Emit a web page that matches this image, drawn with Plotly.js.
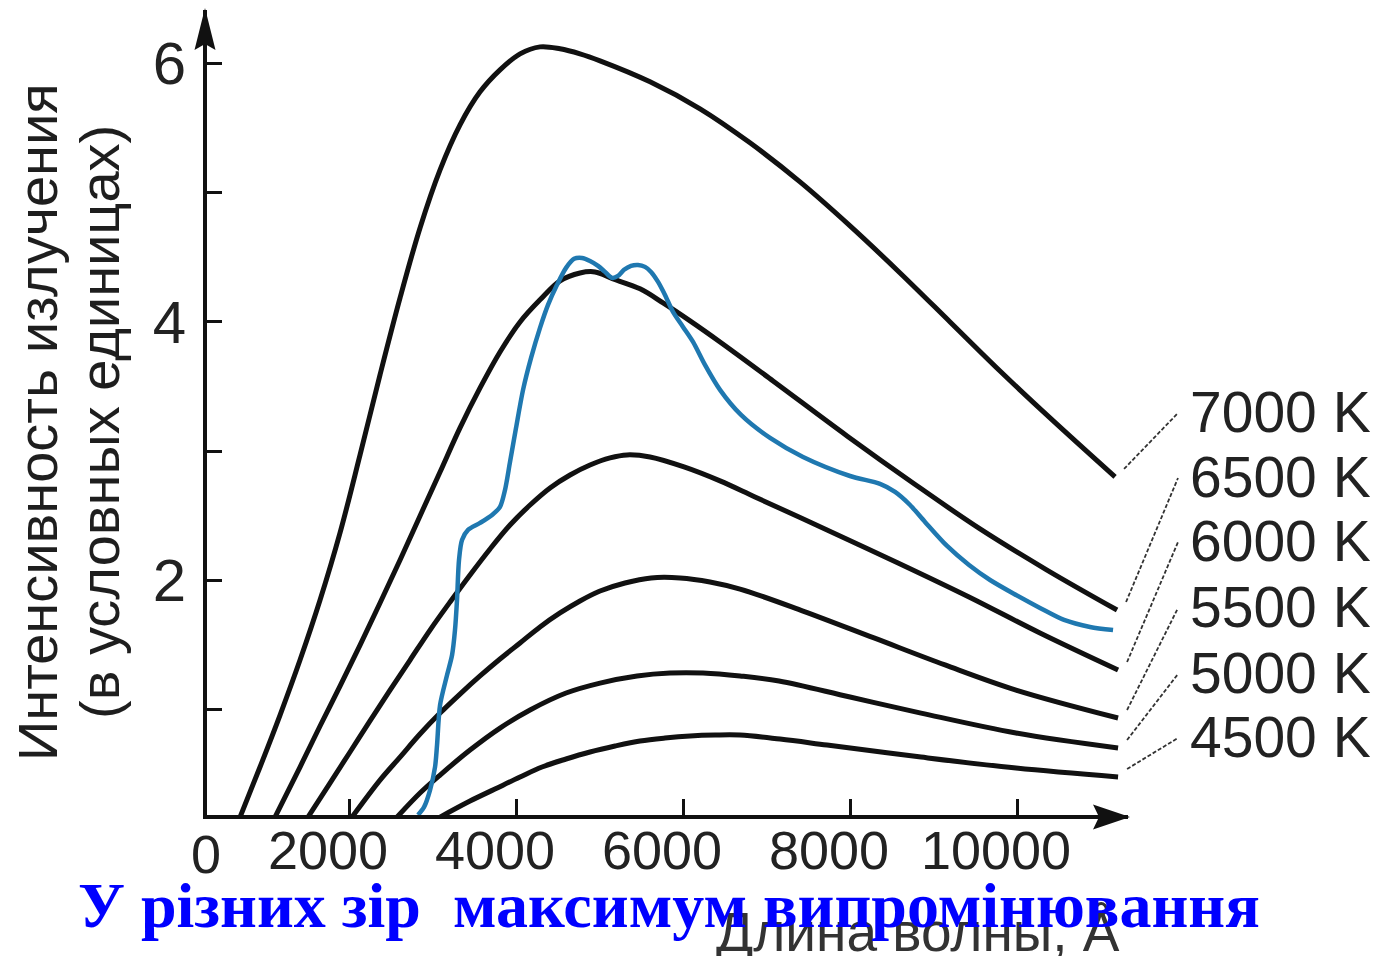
<!DOCTYPE html>
<html><head><meta charset="utf-8">
<script src="https://cdn.plot.ly/plotly-3.0.1.min.js"></script>
<style>html,body{margin:0;padding:0;background:#fff}#chart{width:1380px;height:956px}</style>
</head><body><div id="chart"></div>
<script>
// Wavelength (Å) and intensity (arbitrary units)
const wl7000 = [695, 934, 1174, 1413, 1653, 1892, 2132, 2371, 2611, 2850, 3090, 3329, 3569, 3808, 4048, 4287, 4527, 4766, 5006, 5605, 6204, 6802, 7401, 8000, 8599, 9198, 9796, 10395, 11174];
const in7000 = [0.17, 0.557, 0.959, 1.384, 1.848, 2.367, 2.970, 3.589, 4.184, 4.725, 5.174, 5.522, 5.777, 5.947, 6.071, 6.125, 6.110, 6.071, 6.017, 5.855, 5.646, 5.383, 5.081, 4.741, 4.377, 3.998, 3.619, 3.256, 2.800];

const wl6500 = [1114, 1413, 1653, 1892, 2132, 2371, 2611, 2850, 3090, 3329, 3569, 3808, 4048, 4287, 4527, 4766, 4946, 5162, 5485, 5761, 6084, 6443, 7078, 7964, 8754, 9557, 10359, 11198];
const in6500 = [0.17, 0.557, 0.874, 1.183, 1.500, 1.825, 2.158, 2.498, 2.838, 3.179, 3.488, 3.766, 3.998, 4.169, 4.316, 4.377, 4.385, 4.331, 4.254, 4.145, 4.006, 3.843, 3.542, 3.117, 2.753, 2.398, 2.080, 1.771];

const wl6000 = [1509, 1772, 2012, 2251, 2491, 2731, 2970, 3210, 3449, 3689, 3928, 4168, 4407, 4647, 4886, 5126, 5329, 5605, 6012, 6443, 6862, 7725, 8575, 9425, 10275, 11210];
const in6000 = [0.17, 0.433, 0.673, 0.913, 1.152, 1.384, 1.616, 1.833, 2.042, 2.243, 2.428, 2.583, 2.715, 2.815, 2.892, 2.947, 2.970, 2.954, 2.877, 2.769, 2.645, 2.390, 2.135, 1.872, 1.593, 1.307];

const wl5500 = [2036, 2371, 2611, 2850, 3090, 3329, 3569, 3808, 4048, 4287, 4527, 4766, 5006, 5305, 5617, 5964, 6323, 6683, 7437, 8287, 9138, 9988, 11210];
const in5500 = [0.17, 0.456, 0.634, 0.812, 0.974, 1.121, 1.261, 1.392, 1.516, 1.640, 1.748, 1.841, 1.918, 1.980, 2.019, 2.019, 1.988, 1.933, 1.763, 1.555, 1.346, 1.152, 0.936];

const wl5000 = [2575, 2850, 3090, 3449, 3808, 4168, 4599, 5006, 5449, 5844, 6240, 6683, 7150, 8000, 8850, 9988, 11210];
const in5000 = [0.17, 0.356, 0.495, 0.688, 0.858, 0.998, 1.129, 1.206, 1.261, 1.284, 1.284, 1.261, 1.222, 1.098, 0.974, 0.820, 0.704];

const wl4500 = [3090, 3449, 3748, 4048, 4311, 4599, 4886, 5186, 5485, 5784, 6084, 6383, 6683, 7162, 7725, 8850, 9988, 11210];
const in4500 = [0.17, 0.294, 0.387, 0.480, 0.557, 0.619, 0.673, 0.719, 0.758, 0.781, 0.797, 0.804, 0.804, 0.773, 0.727, 0.634, 0.549, 0.480];

// Observed (solar) spectrum, blue curve
const wlSun = [2826, 2898, 2970, 3030, 3054, 3090, 3174, 3234, 3269, 3293, 3317, 3353, 3425, 3569, 3713, 3808, 3868, 3928, 4000, 4084, 4180, 4287, 4383, 4491, 4599, 4695, 4790, 4886, 4982, 5066, 5150, 5221, 5293, 5377, 5461, 5545, 5617, 5701, 5784, 5880, 6000, 6120, 6263, 6443, 6695, 7042, 7437, 8000, 8359, 8539, 8719, 8898, 9162, 9425, 9677, 9988, 10275, 10563, 10874, 11150];
const inSun = [0.186, 0.247, 0.379, 0.557, 0.727, 1.036, 1.268, 1.423, 1.616, 1.848, 2.158, 2.312, 2.390, 2.444, 2.506, 2.568, 2.699, 2.916, 3.179, 3.473, 3.720, 3.952, 4.130, 4.285, 4.416, 4.486, 4.493, 4.470, 4.432, 4.385, 4.339, 4.354, 4.401, 4.432, 4.439, 4.424, 4.385, 4.308, 4.207, 4.076, 3.960, 3.844, 3.666, 3.473, 3.279, 3.101, 2.954, 2.807, 2.746, 2.684, 2.583, 2.452, 2.266, 2.119, 2.003, 1.887, 1.787, 1.694, 1.640, 1.616];

const tempLabels = ['7000 K', '6500 K', '6000 K', '5500 K', '5000 K', '4500 K'];
const xTickVals = [2000, 4000, 6000, 8000, 10000];
const xTickText = ['2000', '4000', '6000', '8000', '10000'];
const yTickVals = [1, 2, 3, 4, 5, 6];
const yTickText = ['', '2', '', '4', '', '6'];

const series = [
  [wl7000, in7000], [wl6500, in6500], [wl6000, in6000],
  [wl5500, in5500], [wl5000, in5000], [wl4500, in4500]
];

// plot geometry
const L = 207, R = 1128, T = 10, B = 815;
const X0 = 299, X1 = 11329, Y0 = 0.186, Y1 = 6.41;
const xToPx = x => L + (x - X0) / (X1 - X0) * (R - L);
const yToPx = v => B - (v - Y0) / (Y1 - Y0) * (B - T);
const pxToPaperX = px => (px - L) / (R - L);
const pxToPaperY = py => (B - py) / (B - T);

const traces = series.map((s, i) => ({
  x: s[0], y: s[1], type: 'scatter', mode: 'lines', name: tempLabels[i],
  line: {color: '#111111', width: 5, shape: 'spline', smoothing: 1},
  hoverinfo: 'x+y+name'
}));
traces.push({
  x: wlSun, y: inSun, type: 'scatter', mode: 'lines', name: 'Солнце',
  line: {color: '#1f78b0', width: 4.5, shape: 'spline', smoothing: 0.8}
});

const labelLeftPx = 1188;
const labelPy = [412, 477, 541, 607, 673, 737];
const labelFont = {family: 'Liberation Sans, Arial, sans-serif', size: 57, color: '#222'};

const annotations = [];
tempLabels.forEach((t, i) => {
  annotations.push({
    xref: 'paper', yref: 'paper',
    x: pxToPaperX(labelLeftPx), y: pxToPaperY(labelPy[i]),
    xanchor: 'left', yanchor: 'middle', showarrow: false, text: t, font: labelFont
  });
});
// y-axis title (two lines)
const yTitleLines = ['Интенсивность излучения', '(в условных единицах)'];
const yTitleCx = [37, 99];
yTitleLines.forEach((t, i) => {
  annotations.push({
    xref: 'paper', yref: 'paper', x: pxToPaperX(yTitleCx[i]), y: pxToPaperY(422),
    xanchor: 'center', yanchor: 'middle', textangle: -90, showarrow: false, text: t,
    font: {family: 'Liberation Sans, Arial, sans-serif', size: 56, color: '#1e1e1e'}
  });
});
annotations.push({
  xref: 'paper', yref: 'paper', x: 0, y: 0, xshift: -1, yshift: -7,
  xanchor: 'center', yanchor: 'top', showarrow: false, text: '0',
  font: {family: 'Liberation Sans, Arial, sans-serif', size: 54, color: '#222'}
});
annotations.push({
  xref: 'paper', yref: 'paper', x: pxToPaperX(918), y: pxToPaperY(932),
  xanchor: 'center', yanchor: 'middle', showarrow: false, text: 'Длина волны, Å',
  font: {family: 'Liberation Sans, Arial, sans-serif', size: 55, color: '#333'}
});
annotations.push({
  xref: 'paper', yref: 'paper', x: pxToPaperX(669), y: pxToPaperY(905),
  xanchor: 'center', yanchor: 'middle', showarrow: false,
  text: '<b>У різних зір&nbsp;&nbsp;максимум випромінювання</b>',
  font: {family: 'Liberation Serif, Times New Roman, serif', size: 64, color: '#0000ff'}
});

const shapes = [];
// leader lines from curve ends to labels
series.forEach((s, i) => {
  const lx = s[0][s[0].length - 1], ly = s[1][s[1].length - 1];
  const ex = xToPx(lx), ey = yToPx(ly);
  shapes.push({
    type: 'line', xref: 'paper', yref: 'paper',
    x0: pxToPaperX(ex + 9), y0: pxToPaperY(ey - 8),
    x1: pxToPaperX(labelLeftPx - 10), y1: pxToPaperY(labelPy[i] + 1),
    line: {color: '#333', width: 1.8, dash: '4px,2px'}
  });
});
// axis arrow heads
shapes.push({
  type: 'path', xref: 'paper', yref: 'paper', xsizemode: 'pixel', ysizemode: 'pixel',
  xanchor: 1, yanchor: 0, path: 'M 2,-2 L -35,10.5 L -29,-2 L -35,-14.5 Z',
  fillcolor: '#111', line: {width: 0}
});
shapes.push({
  type: 'path', xref: 'paper', yref: 'paper', xsizemode: 'pixel', ysizemode: 'pixel',
  xanchor: 0, yanchor: 1, path: 'M -2,2 L -12.5,-40 L -2,-34 L 8.5,-40 Z',
  fillcolor: '#111', line: {width: 0}
});

const layout = {
  width: 1380, height: 956,
  margin: {l: L, r: 1380 - R, t: T, b: 956 - B, pad: 0},
  paper_bgcolor: '#fff', plot_bgcolor: '#fff',
  showlegend: false,
  xaxis: {
    range: [X0, X1], showgrid: false, zeroline: false,
    showline: true, linecolor: '#111', linewidth: 4,
    ticks: 'inside', ticklen: 16, tickwidth: 3, tickcolor: '#111',
    tickvals: xTickVals, ticktext: xTickText,
    ticklabelshift: -21, ticklabelstandoff: -15,
    tickfont: {family: 'Liberation Sans, Arial, sans-serif', size: 54, color: '#222'}
  },
  yaxis: {
    range: [Y0, Y1], showgrid: false, zeroline: false,
    showline: true, linecolor: '#111', linewidth: 4,
    ticks: 'inside', ticklen: 15, tickwidth: 3, tickcolor: '#111',
    tickvals: yTickVals, ticktext: yTickText, ticklabelstandoff: 5,
    tickfont: {family: 'Liberation Sans, Arial, sans-serif', size: 60, color: '#222'}
  },
  annotations: annotations,
  shapes: shapes
};

Plotly.newPlot('chart', traces, layout, {displayModeBar: false, responsive: false});
</script></body></html>
